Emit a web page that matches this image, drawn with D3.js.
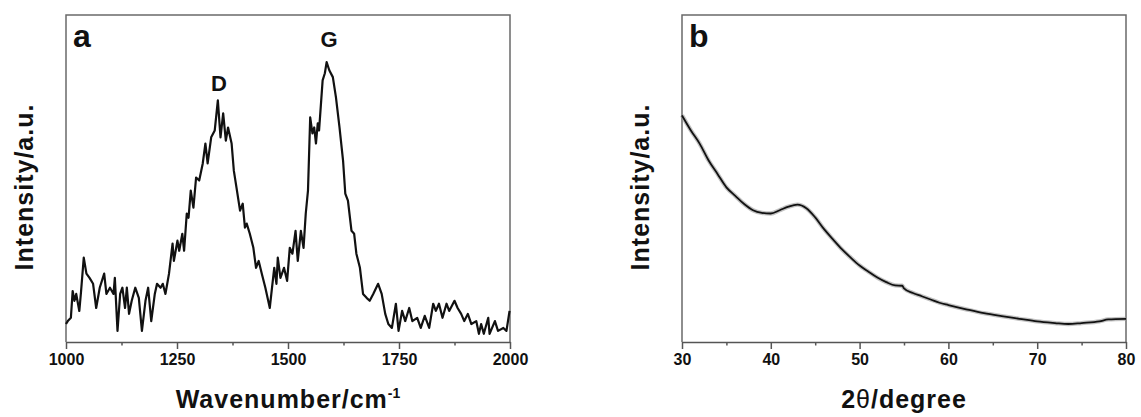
<!DOCTYPE html>
<html>
<head>
<meta charset="utf-8">
<script src="https://cdn.jsdelivr.net/npm/d3@7"></script>
<style>
  html, body { margin: 0; padding: 0; background: #fff; }
  svg { display: block; font-family: "Liberation Sans", Arial, sans-serif; }
</style>
</head>
<body>
<div id="chart"></div>
<script>
// Raman spectrum (panel a)
const ramanWavenumber = [1000,1004,1011,1015,1019,1023,1030,1034,1040,1046,1053,1061,1068,1076,1086,1091,1099,1107,1110,1116,1122,1127,1133,1137,1142,1148,1156,1164,1171,1179,1185,1192,1200,1205,1213,1218,1224,1228,1232,1240,1243,1251,1255,1262,1266,1272,1276,1281,1287,1293,1300,1308,1314,1319,1327,1335,1342,1348,1354,1360,1365,1373,1378,1384,1392,1398,1403,1407,1414,1422,1428,1434,1441,1449,1459,1464,1469,1474,1477,1483,1491,1498,1504,1510,1517,1522,1529,1535,1540,1545,1550,1555,1559,1563,1567,1570,1578,1583,1587,1593,1601,1608,1616,1624,1629,1635,1643,1649,1654,1662,1669,1677,1684,1692,1703,1711,1719,1726,1734,1743,1749,1757,1764,1773,1780,1791,1799,1808,1818,1827,1833,1840,1848,1857,1863,1875,1882,1890,1897,1905,1913,1924,1930,1935,1941,1951,1954,1966,1973,1985,1992,1999];
const ramanIntensity = [55,64,74,156,126,147,95,156,258,209,196,178,104,166,209,147,166,147,196,34,147,166,104,166,86,126,166,135,34,126,166,64,147,178,166,178,147,178,209,301,248,310,279,331,279,393,380,463,411,503,494,546,607,546,626,647,739,626,699,616,656,607,524,472,402,423,350,362,331,288,227,248,209,166,104,166,227,178,258,196,227,187,288,270,340,248,340,288,393,463,687,638,656,607,669,647,800,822,856,831,810,748,656,555,454,432,340,331,270,227,147,135,126,147,178,147,86,55,43,117,34,95,64,104,64,74,43,80,43,117,95,117,74,117,95,126,104,86,64,86,55,64,25,55,25,74,25,64,34,43,34,95];
const ramanTicks = [1000, 1250, 1500, 1750, 2000];
const ramanMinorTicks = [1125, 1375, 1625, 1875];
const ramanPeaks = [
  { label: 'D', x: 1342, y: 739 },
  { label: 'G', x: 1590, y: 856 }
];

// XRD pattern (panel b)
const xrdAngle = [30,31,32,33,34,35,36,37,38,39,40,41,42,43,44,45,46,47,48,49,50,51,52,53,54,54.8,55,56,57,58,59,60,62,64,66,68,70,72,73.5,75,77,78,80];
const xrdIntensity = [693,647,606,555,514,473,447,422,403,395,393,403,414,420,409,381,345,314,284,258,234,215,197,183,173,172,164,150,140,130,120,113,100,88,79,71,63,58,55,58,63,69,71];
const xrdTicks = [30, 40, 50, 60, 70, 80];
const xrdMinorTicks = [35, 45, 55, 65, 75];

const W = 1141, H = 417;
const TOP = 15, BOTTOM = 342;

const svg = d3.select('#chart').append('svg')
  .attr('width', W)
  .attr('height', H);

function drawPanel({ left, right, xDomain, xs, ys, ticks, minor, letter, xTitle, curve, strokeWidth, halo }) {
  const x = d3.scaleLinear().domain(xDomain).range([left, right]);
  const y = d3.scaleLinear().domain([0, 1000]).range([BOTTOM, TOP]);
  const g = svg.append('g');

  // frame (left, top, right)
  g.append('path')
    .attr('d', `M${left},${BOTTOM}V${TOP}H${right}V${BOTTOM}`)
    .attr('fill', 'none')
    .attr('stroke', '#6a6a6a')
    .attr('stroke-width', 1.5);

  // minor ticks
  g.append('g')
    .attr('transform', `translate(0,${BOTTOM})`)
    .call(d3.axisBottom(x).tickValues(minor).tickSize(3.5).tickFormat(''))
    .call((a) => a.select('.domain').remove())
    .call((a) => a.selectAll('line').attr('stroke', '#555').attr('stroke-width', 1.5));

  // major ticks + labels
  const ax = g.append('g')
    .attr('transform', `translate(0,${BOTTOM})`)
    .call(d3.axisBottom(x).tickValues(ticks).tickSize(7).tickPadding(5).tickSizeOuter(0).tickFormat(d3.format('d')));
  ax.select('.domain').attr('stroke', '#555').attr('stroke-width', 1.5);
  ax.selectAll('line').attr('stroke', '#555').attr('stroke-width', 1.5);
  ax.selectAll('text')
    .attr('fill', '#111')
    .attr('font-size', 16)
    .attr('font-weight', 'bold')
    .attr('font-family', '"Liberation Sans", Arial, sans-serif');

  const pts = xs.map((v, i) => [v, ys[i]]);
  const line = d3.line()
    .x((d) => x(d[0]))
    .y((d) => y(d[1]))
    .curve(curve);

  // soft grey fuzz under the trace (noisy scan look)
  if (halo) {
    g.append('path')
      .datum(pts)
      .attr('d', line)
      .attr('fill', 'none')
      .attr('stroke', '#999')
      .attr('stroke-opacity', 0.6)
      .attr('stroke-width', strokeWidth + 2.5)
      .attr('stroke-linejoin', 'round');
  }

  g.append('path')
    .datum(pts)
    .attr('d', line)
    .attr('fill', 'none')
    .attr('stroke', '#111')
    .attr('stroke-width', strokeWidth)
    .attr('stroke-linejoin', 'round');

  // panel letter
  g.append('text')
    .attr('x', left + 7)
    .attr('y', 47)
    .attr('font-size', 32)
    .attr('font-weight', 'bold')
    .attr('fill', '#111')
    .text(letter);

  // x title
  const xt = g.append('text')
    .attr('x', (left + right) / 2)
    .attr('y', 408)
    .attr('text-anchor', 'middle')
    .attr('font-size', 25)
    .attr('font-weight', 'bold')
    .attr('letter-spacing', 1)
    .attr('fill', '#111');
  xTitle(xt);

  // y title
  g.append('text')
    .attr('transform', `translate(${left - 33},187) rotate(-90)`)
    .attr('text-anchor', 'middle')
    .attr('font-size', 25)
    .attr('font-weight', 'bold')
    .attr('letter-spacing', 1)
    .attr('fill', '#111')
    .text('Intensity/a.u.');

  return { x, y, g };
}

const a = drawPanel({
  left: 66, right: 510,
  xDomain: [1000, 2000],
  xs: ramanWavenumber, ys: ramanIntensity,
  ticks: ramanTicks, minor: ramanMinorTicks,
  letter: 'a',
  curve: d3.curveLinear,
  strokeWidth: 2.2,
  halo: false,
  xTitle: (t) => {
    t.append('tspan').text('Wavenumber/cm');
    t.append('tspan').attr('font-size', 14).attr('dy', -10).attr('letter-spacing', 0).text('-1');
  }
});

// peak labels
const labelGap = { D: 9, G: 15 };
a.g.selectAll('.peak')
  .data(ramanPeaks)
  .join('text')
  .attr('class', 'peak')
  .attr('x', (d) => a.x(d.x) + 1)
  .attr('y', (d) => a.y(d.y) - labelGap[d.label])
  .attr('text-anchor', 'middle')
  .attr('font-size', 22)
  .attr('font-weight', 'bold')
  .attr('fill', '#111')
  .text((d) => d.label);

drawPanel({
  left: 682, right: 1126,
  xDomain: [30, 80],
  xs: xrdAngle, ys: xrdIntensity,
  ticks: xrdTicks, minor: xrdMinorTicks,
  letter: 'b',
  curve: d3.curveMonotoneX,
  strokeWidth: 1.8,
  halo: true,
  xTitle: (t) => {
    t.append('tspan').text('2');
    t.append('tspan').attr('font-weight', 'normal').text('θ');
    t.append('tspan').text('/degree');
  }
});
</script>
</body>
</html>
